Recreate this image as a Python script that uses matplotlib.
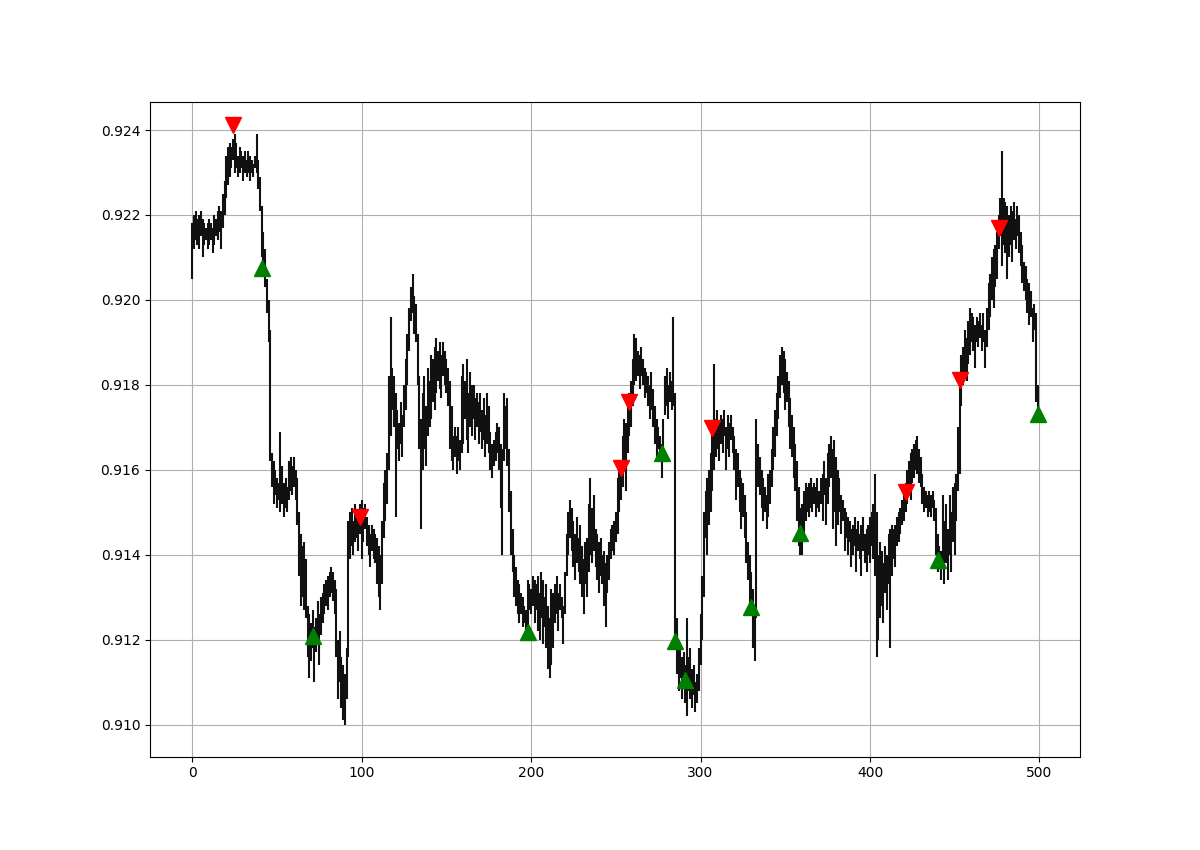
import numpy as np
import matplotlib
matplotlib.use("Agg")
import matplotlib.pyplot as plt

# low / high of each bar (500 bars)
lows = [
    0.9205, 0.9212, 0.9214, 0.9213, 0.9212, 0.9215, 0.9210, 0.9213, 0.9214, 0.9212,
    0.9213, 0.9214, 0.9211, 0.9213, 0.9215, 0.9214, 0.9216, 0.9212, 0.9217, 0.9220,
    0.9224, 0.9227, 0.9229, 0.9231, 0.9233, 0.9230, 0.9231, 0.9229, 0.9230, 0.9231,
    0.9228, 0.9230, 0.9229, 0.9230, 0.9228, 0.9230, 0.9229, 0.9231, 0.9230, 0.9226,
    0.9221, 0.9210, 0.9206, 0.9203, 0.9197, 0.9190, 0.9162, 0.9156, 0.9152, 0.9154,
    0.9151, 0.9153, 0.9150, 0.9152, 0.9149, 0.9151, 0.9150, 0.9153, 0.9155, 0.9154,
    0.9156, 0.9153, 0.9147, 0.9135, 0.9128, 0.9130, 0.9127, 0.9125, 0.9116, 0.9111,
    0.9115, 0.9118, 0.9110, 0.9117, 0.9119, 0.9114, 0.9121, 0.9124, 0.9126, 0.9128,
    0.9127, 0.9130, 0.9131, 0.9129, 0.9126, 0.9116, 0.9106, 0.9110, 0.9104, 0.9101,
    0.9100, 0.9106, 0.9116, 0.9139, 0.9142, 0.9140, 0.9143, 0.9144, 0.9141, 0.9145,
    0.9139, 0.9143, 0.9146, 0.9142, 0.9140, 0.9137, 0.9141, 0.9139, 0.9138, 0.9133,
    0.9130, 0.9127, 0.9133, 0.9144, 0.9148, 0.9152, 0.9160, 0.9168, 0.9174, 0.9170,
    0.9149, 0.9165, 0.9162, 0.9166, 0.9163, 0.9170, 0.9174, 0.9180, 0.9188, 0.9195,
    0.9197, 0.9192, 0.9190, 0.9180, 0.9165, 0.9146, 0.9160, 0.9165, 0.9161, 0.9168,
    0.9170, 0.9172, 0.9176, 0.9174, 0.9178, 0.9181, 0.9179, 0.9177, 0.9182, 0.9180,
    0.9178, 0.9175, 0.9165, 0.9162, 0.9160, 0.9163, 0.9159, 0.9162, 0.9160, 0.9164,
    0.9166, 0.9172, 0.9167, 0.9164, 0.9170, 0.9168, 0.9172, 0.9167, 0.9170, 0.9166,
    0.9169, 0.9165, 0.9167, 0.9163, 0.9166, 0.9164, 0.9160, 0.9158, 0.9161, 0.9162,
    0.9164, 0.9160, 0.9151, 0.9140, 0.9162, 0.9165, 0.9161, 0.9150, 0.9140, 0.9136,
    0.9130, 0.9128, 0.9126, 0.9124, 0.9126, 0.9123, 0.9124, 0.9122, 0.9122, 0.9127,
    0.9126, 0.9128, 0.9124, 0.9127, 0.9122, 0.9120, 0.9125, 0.9119, 0.9123, 0.9118,
    0.9113, 0.9111, 0.9114, 0.9118, 0.9124, 0.9126, 0.9122, 0.9127, 0.9125, 0.9119,
    0.9126, 0.9135, 0.9140, 0.9144, 0.9141, 0.9137, 0.9134, 0.9138, 0.9136, 0.9133,
    0.9130, 0.9126, 0.9133, 0.9130, 0.9136, 0.9140, 0.9138, 0.9141, 0.9137, 0.9134,
    0.9131, 0.9135, 0.9133, 0.9128, 0.9123, 0.9131, 0.9134, 0.9139, 0.9141, 0.9140,
    0.9143, 0.9145, 0.9150, 0.9153, 0.9156, 0.9160, 0.9155, 0.9164, 0.9168, 0.9170,
    0.9175, 0.9180, 0.9181, 0.9182, 0.9179, 0.9182, 0.9180, 0.9177, 0.9178, 0.9175,
    0.9172, 0.9174, 0.9170, 0.9166, 0.9163, 0.9165, 0.9162, 0.9158, 0.9163, 0.9173,
    0.9175, 0.9172, 0.9176, 0.9174, 0.9175, 0.9120, 0.9112, 0.9108, 0.9111, 0.9106,
    0.9109, 0.9105, 0.9102, 0.9108, 0.9106, 0.9104, 0.9107, 0.9103, 0.9105, 0.9108,
    0.9114, 0.9120, 0.9130, 0.9144, 0.9140, 0.9147, 0.9150, 0.9155, 0.9160, 0.9163,
    0.9165, 0.9162, 0.9166, 0.9164, 0.9168, 0.9160, 0.9165, 0.9163, 0.9167, 0.9164,
    0.9160, 0.9153, 0.9156, 0.9150, 0.9146, 0.9149, 0.9144, 0.9138, 0.9134, 0.9128,
    0.9126, 0.9118, 0.9115, 0.9125, 0.9156, 0.9154, 0.9151, 0.9148, 0.9150, 0.9146,
    0.9149, 0.9152, 0.9156, 0.9160, 0.9163, 0.9168, 0.9172, 0.9177, 0.9180, 0.9178,
    0.9174, 0.9176, 0.9170, 0.9165, 0.9163, 0.9158, 0.9155, 0.9148, 0.9142, 0.9140,
    0.9140, 0.9145, 0.9148, 0.9150, 0.9149, 0.9151, 0.9150, 0.9152, 0.9149, 0.9151,
    0.9150, 0.9152, 0.9148, 0.9154, 0.9147, 0.9152, 0.9156, 0.9158, 0.9146, 0.9150,
    0.9142, 0.9147, 0.9150, 0.9145, 0.9148, 0.9141, 0.9144, 0.9140, 0.9143, 0.9137,
    0.9140, 0.9142, 0.9136, 0.9141, 0.9139, 0.9135, 0.9141, 0.9138, 0.9136, 0.9140,
    0.9138, 0.9142, 0.9139, 0.9135, 0.9116, 0.9120, 0.9125, 0.9128, 0.9124, 0.9131,
    0.9127, 0.9133, 0.9118, 0.9135, 0.9139, 0.9137, 0.9142, 0.9143, 0.9145, 0.9147,
    0.9148, 0.9150, 0.9152, 0.9154, 0.9153, 0.9157, 0.9158, 0.9160, 0.9159, 0.9157,
    0.9156, 0.9152, 0.9150, 0.9151, 0.9149, 0.9150, 0.9149, 0.9151, 0.9148, 0.9140,
    0.9136, 0.9137, 0.9134, 0.9137, 0.9133, 0.9138, 0.9134, 0.9140, 0.9136, 0.9143,
    0.9140, 0.9148, 0.9155, 0.9159, 0.9175, 0.9180, 0.9183, 0.9181, 0.9185, 0.9187,
    0.9190, 0.9188, 0.9184, 0.9190, 0.9189, 0.9191, 0.9188, 0.9190, 0.9184, 0.9189,
    0.9193, 0.9196, 0.9200, 0.9198, 0.9203, 0.9205, 0.9212, 0.9215, 0.9208, 0.9213,
    0.9211, 0.9205, 0.9210, 0.9213, 0.9209, 0.9214, 0.9212, 0.9215, 0.9211, 0.9208,
    0.9204, 0.9202, 0.9200, 0.9197, 0.9194, 0.9196, 0.9190, 0.9193, 0.9176, 0.9173,
]
highs = [
    0.9218, 0.9220, 0.9221, 0.9219, 0.9220, 0.9221, 0.9219, 0.9218, 0.9217, 0.9218,
    0.9219, 0.9218, 0.9217, 0.9220, 0.9219, 0.9221, 0.9222, 0.9221, 0.9225, 0.9228,
    0.9234, 0.9236, 0.9237, 0.9236, 0.9238, 0.9239, 0.9237, 0.9234, 0.9236, 0.9235,
    0.9234, 0.9235, 0.9233, 0.9235, 0.9234, 0.9233, 0.9232, 0.9234, 0.9239, 0.9233,
    0.9229, 0.9222, 0.9216, 0.9212, 0.9205, 0.9200, 0.9193, 0.9164, 0.9162, 0.9160,
    0.9158, 0.9157, 0.9169, 0.9161, 0.9157, 0.9158, 0.9156, 0.9162, 0.9163, 0.9161,
    0.9163, 0.9160, 0.9158, 0.9150, 0.9145, 0.9142, 0.9143, 0.9139, 0.9128, 0.9126,
    0.9124, 0.9127, 0.9123, 0.9125, 0.9129, 0.9126, 0.9130, 0.9131, 0.9133, 0.9134,
    0.9135, 0.9136, 0.9137, 0.9136, 0.9134, 0.9132, 0.9120, 0.9122, 0.9116, 0.9114,
    0.9112, 0.9118, 0.9148, 0.9150, 0.9151, 0.9148, 0.9152, 0.9150, 0.9149, 0.9152,
    0.9153, 0.9151, 0.9152, 0.9149, 0.9147, 0.9145, 0.9147, 0.9146, 0.9145, 0.9144,
    0.9142, 0.9140, 0.9148, 0.9157, 0.9160, 0.9164, 0.9182, 0.9196, 0.9184, 0.9182,
    0.9178, 0.9174, 0.9171, 0.9176, 0.9173, 0.9180, 0.9186, 0.9192, 0.9198, 0.9203,
    0.9206, 0.9201, 0.9199, 0.9192, 0.9182, 0.9172, 0.9178, 0.9182, 0.9175, 0.9184,
    0.9181, 0.9187, 0.9186, 0.9189, 0.9191, 0.9188, 0.9190, 0.9187, 0.9190, 0.9188,
    0.9186, 0.9184, 0.9181, 0.9175, 0.9168, 0.9170, 0.9168, 0.9170, 0.9167, 0.9182,
    0.9185, 0.9181, 0.9186, 0.9178, 0.9183, 0.9180, 0.9180, 0.9177, 0.9178, 0.9176,
    0.9178, 0.9174, 0.9177, 0.9173, 0.9178, 0.9175, 0.9169, 0.9166, 0.9167, 0.9169,
    0.9171, 0.9170, 0.9166, 0.9165, 0.9178, 0.9175, 0.9177, 0.9165, 0.9155, 0.9146,
    0.9140, 0.9137, 0.9134, 0.9133, 0.9131, 0.9130, 0.9128, 0.9127, 0.9134, 0.9133,
    0.9132, 0.9135, 0.9134, 0.9133, 0.9135, 0.9131, 0.9136, 0.9134, 0.9130, 0.9133,
    0.9128, 0.9125, 0.9132, 0.9131, 0.9133, 0.9135, 0.9131, 0.9133, 0.9130, 0.9128,
    0.9136, 0.9145, 0.9150, 0.9153, 0.9151, 0.9148, 0.9145, 0.9149, 0.9144, 0.9147,
    0.9142, 0.9139, 0.9143, 0.9144, 0.9152, 0.9158, 0.9151, 0.9154, 0.9146, 0.9145,
    0.9143, 0.9144, 0.9140, 0.9141, 0.9138, 0.9140, 0.9143, 0.9146, 0.9147, 0.9148,
    0.9150, 0.9158, 0.9162, 0.9160, 0.9168, 0.9172, 0.9171, 0.9175, 0.9178, 0.9181,
    0.9186, 0.9192, 0.9191, 0.9188, 0.9187, 0.9189, 0.9186, 0.9184, 0.9183, 0.9182,
    0.9180, 0.9183, 0.9179, 0.9175, 0.9172, 0.9170, 0.9168, 0.9166, 0.9172, 0.9182,
    0.9184, 0.9180, 0.9183, 0.9181, 0.9196, 0.9178, 0.9125, 0.9119, 0.9118, 0.9116,
    0.9117, 0.9114, 0.9125, 0.9116, 0.9118, 0.9113, 0.9114, 0.9110, 0.9112, 0.9118,
    0.9126, 0.9135, 0.9150, 0.9155, 0.9158, 0.9160, 0.9164, 0.9170, 0.9185, 0.9172,
    0.9174, 0.9171, 0.9173, 0.9172, 0.9174, 0.9170, 0.9173, 0.9171, 0.9173, 0.9170,
    0.9168, 0.9165, 0.9164, 0.9160, 0.9158, 0.9157, 0.9154, 0.9150, 0.9143, 0.9140,
    0.9136, 0.9132, 0.9128, 0.9172, 0.9166, 0.9163, 0.9160, 0.9158, 0.9156, 0.9154,
    0.9159, 0.9160, 0.9165, 0.9170, 0.9174, 0.9178, 0.9182, 0.9187, 0.9189, 0.9188,
    0.9186, 0.9183, 0.9181, 0.9177, 0.9173, 0.9170, 0.9166, 0.9162, 0.9156, 0.9151,
    0.9152, 0.9155, 0.9157, 0.9156, 0.9157, 0.9158, 0.9156, 0.9157, 0.9156, 0.9158,
    0.9155, 0.9158, 0.9159, 0.9162, 0.9158, 0.9164, 0.9166, 0.9168, 0.9165, 0.9167,
    0.9163, 0.9160, 0.9158, 0.9154, 0.9153, 0.9151, 0.9150, 0.9149, 0.9148, 0.9146,
    0.9147, 0.9149, 0.9146, 0.9148, 0.9145, 0.9147, 0.9149, 0.9145, 0.9146, 0.9147,
    0.9149, 0.9150, 0.9152, 0.9159, 0.9150, 0.9140, 0.9143, 0.9141, 0.9138, 0.9142,
    0.9140, 0.9145, 0.9146, 0.9147, 0.9146, 0.9147, 0.9149, 0.9150, 0.9151, 0.9153,
    0.9155, 0.9157, 0.9160, 0.9162, 0.9164, 0.9165, 0.9166, 0.9167, 0.9168, 0.9165,
    0.9163, 0.9159, 0.9156, 0.9155, 0.9154, 0.9155, 0.9154, 0.9155, 0.9153, 0.9151,
    0.9145, 0.9142, 0.9141, 0.9154, 0.9148, 0.9152, 0.9146, 0.9154, 0.9150, 0.9156,
    0.9157, 0.9159, 0.9170, 0.9182, 0.9187, 0.9189, 0.9193, 0.9191, 0.9195, 0.9198,
    0.9197, 0.9196, 0.9194, 0.9196, 0.9195, 0.9197, 0.9194, 0.9197, 0.9193, 0.9198,
    0.9204, 0.9206, 0.9210, 0.9212, 0.9213, 0.9216, 0.9220, 0.9224, 0.9235, 0.9224,
    0.9223, 0.9222, 0.9220, 0.9222, 0.9221, 0.9223, 0.9219, 0.9222, 0.9220, 0.9216,
    0.9213, 0.9209, 0.9208, 0.9205, 0.9204, 0.9202, 0.9198, 0.9199, 0.9197, 0.9180,
]

# signals: bar index and level of the marker
sell_bars = [24, 99, 253, 258, 307, 421, 453, 476]
sell_levels = [0.92412, 0.91489, 0.91605, 0.91760, 0.91699, 0.91548, 0.91812, 0.92169]
buy_bars = [41, 71, 198, 277, 285, 291, 330, 359, 440, 499]
buy_levels = [0.92075, 0.91209, 0.91219, 0.91640, 0.91198, 0.91104, 0.91278, 0.91452, 0.91388, 0.91732]

bars = np.arange(len(lows))

fig, ax = plt.subplots(figsize=(12, 8.5), dpi=100)
ax.vlines(bars, lows, highs, color='#111111', linewidth=1.5)
ax.plot(sell_bars, sell_levels, 'v', color='red', markersize=11)
ax.plot(buy_bars, buy_levels, '^', color='green', markersize=11)
ax.set_xlim(-25, 524)
ax.set_ylim(0.90925, 0.92466)
ax.grid(True)

plt.savefig('out.png')
plt.close()
